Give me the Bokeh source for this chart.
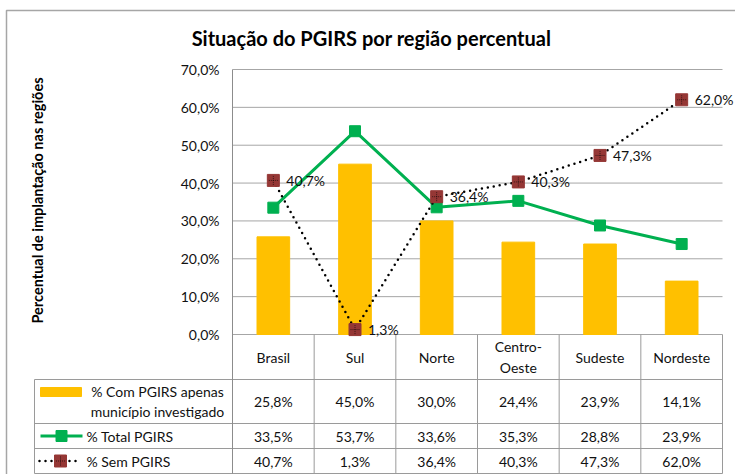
import math
from bokeh.plotting import figure
from bokeh.models import Range1d, FixedTicker, CustomJSTickFormatter, ColumnDataSource, LabelSet
from bokeh.embed import file_html
from bokeh.resources import INLINE
from bokeh.core.properties import value

# ---------------- data ----------------
regions = ["Brasil", "Sul", "Norte", "Centro-\nOeste", "Sudeste", "Nordeste"]
com_pgirs = [25.8, 45.0, 30.0, 24.4, 23.9, 14.1]
total_pgirs = [33.5, 53.7, 33.6, 35.3, 28.8, 23.9]
sem_pgirs = [40.7, 1.3, 36.4, 40.3, 47.3, 62.0]
series_names = ["% Com PGIRS apenas\nmunicípio investigado", "% Total PGIRS", "% Sem PGIRS"]
y_ticks = [0, 10, 20, 30, 40, 50, 60, 70]
title_text = "Situação do PGIRS por região percentual"
y_label_text = "Percentual de implantação nas regiões"

# ---------------- style / layout ----------------
FONT = "Lato"
BAR_C = "#FFC000"
GREEN = "#00B050"
BROWN = "#953735"
GRID_C = "#A6A6A6"
LINE_C = "#9A9A9A"
TXT = "#111111"
N = len(regions)
xs = [i + 0.5 for i in range(N)]

WIDTH, HEIGHT = 735, 474
AX_X = 232                     # pixel x of the value axis / first category column
ZERO = 334                     # pixel y of 0 %
TOP = 69                       # pixel y of 70 %
CW = 490 / N                   # category column width, px
PPU = (ZERO - TOP) / 70.0      # px per percent
ROWS = [379, 423, 448, 473]    # table row lines below the header
LEG_L = 34                     # left edge of the legend column


def X(px):
    return (px - AX_X) / CW


def Y(py):
    return (ZERO - py) / PPU


def fmt(v):
    return f"{v:.1f}".replace(".", ",") + "%"


p = figure(width=WIDTH, height=HEIGHT, x_range=Range1d(X(0), X(WIDTH)),
           y_range=Range1d(Y(HEIGHT), Y(0)),
           output_backend="svg", toolbar_location=None, x_axis_location=None,
           min_border=0)
p.outline_line_color = None
p.xgrid.grid_line_color = None
p.ygrid.grid_line_color = None

ax = p.yaxis[0]
ax.fixed_location = 0
ax.bounds = (Y(ROWS[-1]), 70)
ax.ticker = FixedTicker(ticks=y_ticks)
ax.formatter = CustomJSTickFormatter(code="return tick.toFixed(1).replace('.', ',') + '%';")
ax.axis_line_color = "#8C8C8C"
ax.major_tick_out = 0
ax.major_tick_in = 0
ax.minor_tick_line_color = None
ax.major_label_standoff = 13
ax.major_label_text_font = FONT
ax.major_label_text_font_size = "14px"
ax.major_label_text_color = TXT

# outer chart border (left and top edges visible in the picture)
p.line([X(6), X(6), X(WIDTH + 5)], [Y(HEIGHT + 5), Y(10), Y(10)], line_color="#A6A6A6",
       line_width=1.5)

# title and rotated axis title
p.text(x=[X(371)], y=[Y(37)], text=[title_text], text_align="center", text_baseline="middle",
       text_font=value(FONT), text_font_size="20px", text_font_style="bold", text_color="#000000")
p.text(x=[X(37)], y=[Y(200)], text=[y_label_text], angle=math.pi / 2, text_align="center",
       text_baseline="middle", text_font=value(FONT), text_font_size="14.5px",
       text_font_style="bold", text_color="#000000")

# horizontal gridlines
p.segment(x0=[0] * len(y_ticks), y0=y_ticks, x1=[N] * len(y_ticks), y1=y_ticks,
          line_color=GRID_C, line_width=1)

# ---- series ----
p.vbar(x=xs, top=com_pgirs, width=0.4, color=BAR_C)
p.line(xs, total_pgirs, line_color=GREEN, line_width=3)
p.scatter(xs, total_pgirs, marker="square", size=11, color=GREEN)
p.line(xs, sem_pgirs, line_color="black", line_width=2.5, line_dash="0 6", line_cap="round")
p.scatter(xs, sem_pgirs, marker="square", size=12, fill_color=BROWN, line_color=BROWN)
p.scatter(xs, sem_pgirs, marker="cross", size=9, line_color="black", line_width=1,
          line_dash="1 1", line_alpha=0.6)
lab_src = ColumnDataSource(dict(x=xs, y=sem_pgirs, t=[fmt(v) for v in sem_pgirs]))
p.add_layout(LabelSet(x="x", y="y", text="t", source=lab_src, x_offset=13,
                      text_baseline="middle", text_font=value(FONT),
                      text_font_size="14px", text_color=TXT))

# ---- data table ----
ys_rows = [Y(r) for r in ROWS]
p.segment(x0=[X(LEG_L)] * 4, y0=ys_rows, x1=[N] * 4, y1=ys_rows, line_color=LINE_C,
          line_width=1)
vxs = list(range(1, N + 1)) + [X(LEG_L)]
p.segment(x0=vxs, y0=[0] * N + [Y(ROWS[0])], x1=vxs, y1=[Y(ROWS[-1])] * (N + 1),
          line_color=LINE_C, line_width=1)

p.text(x=xs, y=[Y((ZERO + ROWS[0]) / 2)] * N, text=regions, text_align="center",
       text_baseline="middle", text_font=value(FONT), text_font_size="14px", text_color=TXT,
       text_line_height=1.2)
row_cy = [Y((ROWS[0] + ROWS[1]) / 2), Y((ROWS[1] + ROWS[2]) / 2), Y((ROWS[2] + ROWS[3]) / 2)]
for vals, cy in zip([com_pgirs, total_pgirs, sem_pgirs], row_cy):
    p.text(x=xs, y=[cy] * N, text=[fmt(v) for v in vals], text_align="center",
           text_baseline="middle", text_font=value(FONT), text_font_size="14px", text_color=TXT)

# ---- legend keys in the table's first column ----
p.quad(left=[X(40)], right=[X(81)], top=[Y(387)], bottom=[Y(396)], color=BAR_C)
p.text(x=[X(157)], y=[row_cy[0]], text=[series_names[0]], text_align="center",
       text_baseline="middle", text_font=value(FONT), text_font_size="14px", text_color=TXT,
       text_line_height=1.2)
p.line([X(40), X(82)], [row_cy[1]] * 2, line_color=GREEN, line_width=3)
p.scatter([X(61)], [row_cy[1]], marker="square", size=11, color=GREEN)
p.line([X(39), X(77)], [row_cy[2]] * 2, line_color="black", line_width=2.5, line_dash="0 6",
       line_cap="round")
p.scatter([X(60)], [row_cy[2]], marker="square", size=12, fill_color=BROWN, line_color=BROWN)
p.scatter([X(60)], [row_cy[2]], marker="cross", size=9, line_color="black", line_width=1,
          line_dash="1 1", line_alpha=0.6)
p.text(x=[X(86)] * 2, y=row_cy[1:], text=series_names[1:], text_align="left",
       text_baseline="middle", text_font=value(FONT), text_font_size="14px", text_color=TXT)

open("out.html", "w").write(file_html(p, INLINE))
